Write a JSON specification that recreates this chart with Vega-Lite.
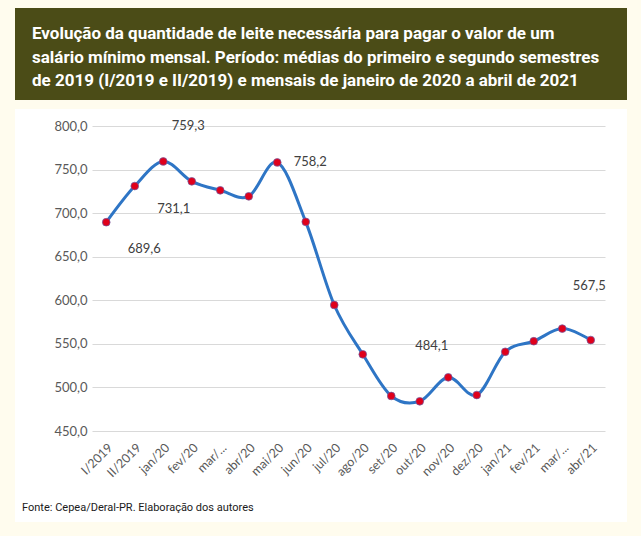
{
  "$schema": "https://vega.github.io/schema/vega-lite/v6.json",
  "background": "#fffcee",
  "padding": {"left": 15, "top": 8, "right": 14, "bottom": 14},
  "spacing": 9,
  "datasets": {
    "leite": [
      {"periodo": "I/2019", "litros": 689.6},
      {"periodo": "II/2019", "litros": 731.1},
      {"periodo": "jan/20", "litros": 759.3},
      {"periodo": "fev/20", "litros": 736.5},
      {"periodo": "mar/20", "litros": 726.2},
      {"periodo": "abr/20", "litros": 719.3},
      {"periodo": "mai/20", "litros": 758.2},
      {"periodo": "jun/20", "litros": 690.0},
      {"periodo": "jul/20", "litros": 594.6},
      {"periodo": "ago/20", "litros": 538.0},
      {"periodo": "set/20", "litros": 490.2},
      {"periodo": "out/20", "litros": 484.1},
      {"periodo": "nov/20", "litros": 511.6},
      {"periodo": "dez/20", "litros": 491.3},
      {"periodo": "jan/21", "litros": 540.9},
      {"periodo": "fev/21", "litros": 553.0},
      {"periodo": "mar/21", "litros": 567.5},
      {"periodo": "abr/21", "litros": 554.4}
    ]
  },
  "vconcat": [
    {
      "width": 612,
      "height": 92,
      "view": {"fill": "#4b4c17", "stroke": null},
      "data": {"values": [{}]},
      "mark": {
        "type": "text",
        "text": [
          "Evolução da quantidade de leite necessária para pagar o valor de um",
          "salário mínimo mensal. Período: médias do primeiro e segundo semestres",
          "de 2019 (I/2019 e II/2019) e mensais de janeiro de 2020 a abril de 2021"
        ],
        "align": "left",
        "baseline": "alphabetic",
        "dx": -289,
        "dy": -15,
        "lineHeight": 23.5,
        "font": "Roboto",
        "fontWeight": "bold",
        "fontSize": 17,
        "color": "#ffffff"
      }
    },
    {
      "width": 612,
      "height": 413,
      "view": {"fill": "#ffffff", "stroke": null},
      "data": {"name": "leite"},
      "layer": [
        {
          "mark": {"type": "line", "interpolate": "cardinal", "color": "#2e75c5", "strokeWidth": 3},
          "encoding": {
            "x": {
              "field": "periodo",
              "type": "ordinal",
              "sort": null,
              "title": null,
              "scale": {"type": "band", "range": [77, 590], "paddingInner": 0, "paddingOuter": 0},
              "axis": {
                "orient": "bottom",
                "offset": -91,
                "domain": false,
                "ticks": false,
                "grid": false,
                "labelAngle": -45,
                "labelPadding": 10,
                "labelFont": "Lato",
                "labelFontSize": 12.5,
                "labelColor": "#595959",
                "labelExpr": "indexof(datum.label, 'mar') === 0 ? 'mar/...' : datum.label"
              }
            },
            "y": {
              "field": "litros",
              "type": "quantitative",
              "title": null,
              "scale": {"domain": [450, 800], "range": [322, 17], "nice": false, "zero": false},
              "axis": {
                "orient": "left",
                "offset": -77,
                "values": [450, 500, 550, 600, 650, 700, 750, 800],
                "format": ".1f",
                "domain": false,
                "ticks": false,
                "tickSize": 0,
                "labelPadding": 5,
                "grid": true,
                "gridColor": "#d9d9d9",
                "gridWidth": 1,
                "labelFont": "Lato",
                "labelFontSize": 13,
                "labelColor": "#595959"
              }
            }
          }
        },
        {
          "mark": {"type": "circle", "size": 60, "fill": "#e0001b", "stroke": "#6c5fa8", "strokeWidth": 0.7, "opacity": 1},
          "encoding": {
            "x": {"field": "periodo", "type": "ordinal", "sort": null},
            "y": {"field": "litros", "type": "quantitative"}
          }
        },
        {
          "transform": [{"filter": "datum.periodo === 'I/2019'"}],
          "mark": {"type": "text", "dx": 38, "dy": 27, "font": "Lato", "fontSize": 13, "color": "#404040"},
          "encoding": {
            "x": {"field": "periodo", "type": "ordinal", "sort": null},
            "y": {"field": "litros", "type": "quantitative"},
            "text": {"field": "litros", "type": "quantitative", "format": ".1f"}
          }
        },
        {
          "transform": [{"filter": "datum.periodo === 'II/2019'"}],
          "mark": {"type": "text", "dx": 39, "dy": 23, "font": "Lato", "fontSize": 13, "color": "#404040"},
          "encoding": {
            "x": {"field": "periodo", "type": "ordinal", "sort": null},
            "y": {"field": "litros", "type": "quantitative"},
            "text": {"field": "litros", "type": "quantitative", "format": ".1f"}
          }
        },
        {
          "transform": [{"filter": "datum.periodo === 'jan/20'"}],
          "mark": {"type": "text", "dx": 25, "dy": -35, "font": "Lato", "fontSize": 13, "color": "#404040"},
          "encoding": {
            "x": {"field": "periodo", "type": "ordinal", "sort": null},
            "y": {"field": "litros", "type": "quantitative"},
            "text": {"field": "litros", "type": "quantitative", "format": ".1f"}
          }
        },
        {
          "transform": [{"filter": "datum.periodo === 'mai/20'"}],
          "mark": {"type": "text", "dx": 33, "dy": 0, "font": "Lato", "fontSize": 13, "color": "#404040"},
          "encoding": {
            "x": {"field": "periodo", "type": "ordinal", "sort": null},
            "y": {"field": "litros", "type": "quantitative"},
            "text": {"field": "litros", "type": "quantitative", "format": ".1f"}
          }
        },
        {
          "transform": [{"filter": "datum.periodo === 'out/20'"}],
          "mark": {"type": "text", "dx": 12, "dy": -55, "font": "Lato", "fontSize": 13, "color": "#404040"},
          "encoding": {
            "x": {"field": "periodo", "type": "ordinal", "sort": null},
            "y": {"field": "litros", "type": "quantitative"},
            "text": {"field": "litros", "type": "quantitative", "format": ".1f"}
          }
        },
        {
          "transform": [{"filter": "datum.periodo === 'mar/21'"}],
          "mark": {"type": "text", "dx": 27, "dy": -43, "font": "Lato", "fontSize": 13, "color": "#404040"},
          "encoding": {
            "x": {"field": "periodo", "type": "ordinal", "sort": null},
            "y": {"field": "litros", "type": "quantitative"},
            "text": {"field": "litros", "type": "quantitative", "format": ".1f"}
          }
        },
        {
          "data": {"values": [{}]},
          "mark": {
            "type": "text",
            "text": "Fonte: Cepea/Deral-PR. Elaboração dos autores",
            "align": "left",
            "baseline": "alphabetic",
            "dx": -299,
            "dy": 195,
            "font": "Roboto",
            "fontSize": 11,
            "color": "#1a1a1a"
          }
        }
      ]
    }
  ],
  "config": {
    "view": {"stroke": null},
    "locale": {
      "number": {"decimal": ",", "thousands": ".", "grouping": [3], "currency": ["R$", ""]}
    }
  }
}
